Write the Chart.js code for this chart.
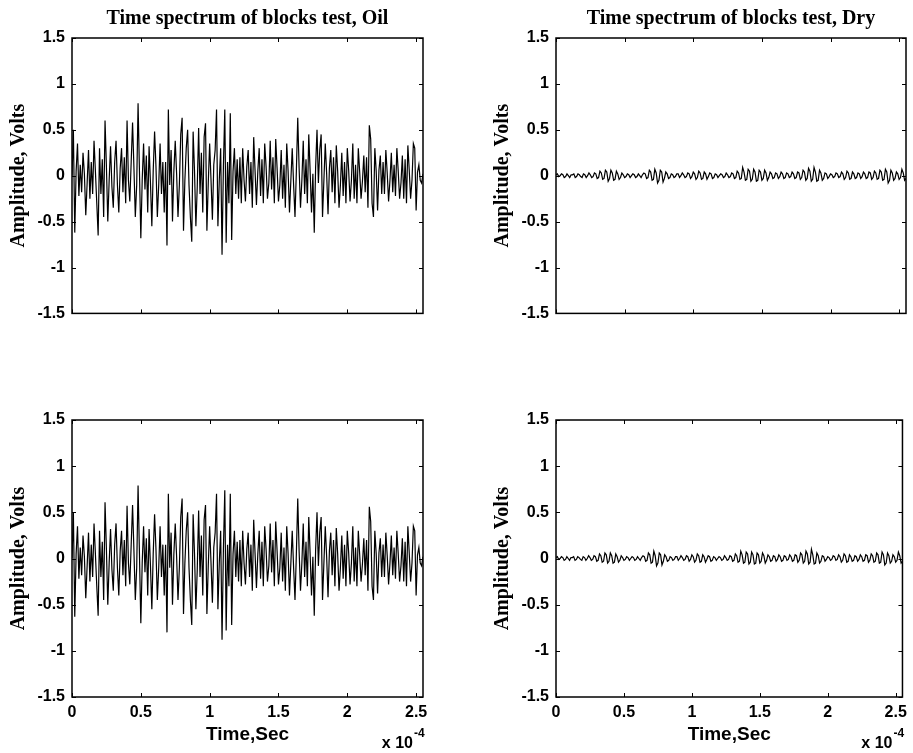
<!DOCTYPE html>
<html>
<head>
<meta charset="utf-8">
<script src="https://cdn.jsdelivr.net/npm/chart.js@4.4.1/dist/chart.umd.min.js"></script>
<style>
  body { margin: 0; background: #fff; }
  #wrap { position: relative; width: 913px; height: 753px; overflow: hidden; }
  canvas { position: absolute; }
</style>
</head>
<body>
<div id="wrap">
  <canvas id="oilTop" width="440" height="330" style="left:0;top:0"></canvas>
  <canvas id="dryTop" width="429" height="330" style="left:484px;top:0"></canvas>
  <canvas id="oilBottom" width="440" height="353" style="left:0;top:400px"></canvas>
  <canvas id="dryBottom" width="429" height="353" style="left:484px;top:400px"></canvas>
</div>
<script>
// amplitude in volts, one sample every 0.01 x 1e-4 s (256 samples)
const oilTopValues = [
  0.00, 0.50, -0.62, 0.05, 0.35, -0.22, 0.12, -0.18,
  0.25, 0.02, -0.43, -0.08, 0.28, -0.25, 0.15, -0.20,
  0.38, 0.05, -0.30, -0.65, 0.30, -0.20, 0.18, -0.45,
  0.60, 0.10, -0.50, -0.05, 0.32, -0.12, -0.35, 0.15,
  0.38, -0.10, -0.40, 0.08, 0.30, -0.18, 0.20, -0.30,
  0.60, -0.05, -0.28, 0.15, 0.58, 0.08, -0.45, -0.10,
  0.79, 0.05, -0.68, -0.05, 0.35, -0.15, 0.22, -0.40,
  0.32, -0.08, -0.55, 0.05, 0.48, 0.10, -0.45, -0.10,
  0.35, -0.20, 0.15, -0.40, 0.15, -0.76, 0.72, -0.10,
  0.28, -0.50, 0.05, 0.38, 0.02, -0.45, -0.10, 0.45,
  0.63, -0.60, -0.05, 0.30, 0.50, -0.10, -0.45, -0.72,
  0.48, 0.05, -0.55, -0.12, 0.52, -0.20, 0.25, -0.40,
  0.42, 0.57, -0.60, -0.08, 0.35, -0.05, -0.48, 0.12,
  0.28, 0.72, -0.55, -0.05, 0.30, -0.86, 0.10, 0.72,
  -0.73, 0.15, -0.30, 0.68, -0.70, 0.05, 0.30, -0.20,
  0.18, -0.25, 0.20, -0.30, 0.30, -0.05, -0.28, 0.10,
  0.28, -0.20, 0.15, -0.35, 0.42, 0.05, -0.32, 0.05,
  0.30, -0.22, 0.18, -0.30, 0.35, 0.10, -0.25, -0.08,
  0.38, -0.15, 0.20, -0.30, 0.40, 0.08, -0.28, -0.10,
  0.28, -0.25, 0.12, -0.35, 0.35, 0.05, -0.40, -0.05,
  0.30, -0.10, -0.45, 0.05, 0.63, 0.08, -0.35, -0.05,
  0.38, -0.20, 0.18, -0.30, 0.45, 0.05, -0.40, 0.02,
  -0.62, 0.10, 0.50, -0.08, 0.28, 0.45, -0.45, -0.05,
  0.35, 0.02, -0.42, 0.08, 0.28, -0.18, 0.20, -0.30,
  0.33, 0.05, -0.35, -0.10, 0.25, -0.22, 0.15, -0.30,
  0.30, 0.06, -0.28, -0.05, 0.35, -0.25, 0.12, -0.30,
  0.30, 0.04, -0.25, -0.06, 0.22, -0.18, 0.20, -0.35,
  0.55, 0.40, -0.30, -0.45, 0.30, 0.05, -0.38, 0.06,
  0.22, -0.20, 0.15, -0.20, 0.28, 0.03, -0.28, -0.05,
  0.25, -0.18, 0.12, -0.22, 0.30, 0.05, -0.25, -0.08,
  0.22, -0.25, 0.18, -0.30, 0.33, 0.06, -0.25, -0.05,
  0.35, 0.30, -0.38, 0.04, 0.12, -0.05, -0.08, 0.02
];
const oilBottomValues = [
  0.00, 0.50, -0.63, 0.05, 0.35, -0.22, 0.12, -0.18,
  0.25, 0.02, -0.43, -0.08, 0.28, -0.25, 0.15, -0.20,
  0.38, 0.05, -0.30, -0.62, 0.30, -0.20, 0.18, -0.45,
  0.61, 0.10, -0.50, -0.05, 0.32, -0.12, -0.35, 0.15,
  0.38, -0.10, -0.40, 0.08, 0.30, -0.18, 0.20, -0.30,
  0.57, -0.05, -0.28, 0.15, 0.58, 0.08, -0.45, -0.10,
  0.79, 0.05, -0.70, -0.05, 0.35, -0.15, 0.22, -0.40,
  0.32, -0.08, -0.55, 0.05, 0.48, 0.10, -0.45, -0.10,
  0.35, -0.20, 0.15, -0.40, 0.15, -0.80, 0.70, -0.10,
  0.28, -0.50, 0.05, 0.38, 0.02, -0.45, -0.10, 0.45,
  0.65, -0.60, -0.05, 0.30, 0.50, -0.10, -0.45, -0.72,
  0.48, 0.05, -0.55, -0.12, 0.52, -0.20, 0.25, -0.40,
  0.42, 0.58, -0.60, -0.08, 0.35, -0.05, -0.48, 0.12,
  0.28, 0.70, -0.55, -0.05, 0.30, -0.88, 0.10, 0.74,
  -0.78, 0.15, -0.30, 0.70, -0.72, 0.05, 0.30, -0.20,
  0.18, -0.25, 0.20, -0.30, 0.30, -0.05, -0.28, 0.10,
  0.28, -0.20, 0.15, -0.35, 0.42, 0.05, -0.32, 0.05,
  0.30, -0.22, 0.18, -0.30, 0.35, 0.10, -0.25, -0.08,
  0.38, -0.15, 0.20, -0.30, 0.40, 0.08, -0.28, -0.10,
  0.28, -0.25, 0.12, -0.35, 0.35, 0.05, -0.40, -0.05,
  0.30, -0.10, -0.45, 0.05, 0.65, 0.08, -0.35, -0.05,
  0.38, -0.20, 0.18, -0.30, 0.45, 0.05, -0.40, 0.02,
  -0.62, 0.10, 0.50, -0.08, 0.28, 0.45, -0.45, -0.05,
  0.35, 0.02, -0.42, 0.08, 0.28, -0.18, 0.20, -0.30,
  0.33, 0.05, -0.35, -0.10, 0.25, -0.22, 0.15, -0.30,
  0.30, 0.06, -0.28, -0.05, 0.35, -0.25, 0.12, -0.30,
  0.30, 0.04, -0.25, -0.06, 0.22, -0.18, 0.20, -0.35,
  0.56, 0.40, -0.30, -0.45, 0.30, 0.05, -0.38, 0.06,
  0.22, -0.20, 0.15, -0.20, 0.28, 0.03, -0.28, -0.05,
  0.25, -0.18, 0.12, -0.22, 0.30, 0.05, -0.25, -0.08,
  0.22, -0.25, 0.18, -0.30, 0.35, 0.06, -0.25, -0.05,
  0.35, 0.30, -0.40, 0.04, 0.12, -0.05, -0.08, 0.02
];
const dryTopValues = [
  0.01, 0.02, -0.01, 0.00, 0.02, 0.01, -0.02, -0.01,
  0.02, 0.00, -0.02, 0.01, 0.01, 0.02, -0.02, -0.01,
  0.02, 0.01, -0.01, -0.02, 0.02, 0.01, -0.02, 0.00,
  0.03, 0.01, -0.02, -0.01, 0.03, 0.02, -0.03, -0.02,
  0.05, 0.03, -0.04, -0.03, 0.06, 0.04, -0.06, -0.03,
  0.06, 0.03, -0.05, -0.04, 0.05, 0.02, -0.04, -0.02,
  0.03, 0.01, -0.02, -0.01, 0.02, 0.01, -0.02, 0.00,
  0.02, 0.01, -0.02, -0.01, 0.02, 0.00, -0.02, 0.01,
  0.03, 0.02, -0.03, -0.02, 0.06, 0.04, -0.05, -0.04,
  0.07, 0.03, -0.08, -0.05, 0.06, 0.04, -0.07, -0.03,
  0.04, 0.02, -0.03, -0.02, 0.02, 0.01, -0.02, -0.01,
  0.02, 0.02, -0.02, 0.00, 0.03, 0.01, -0.02, -0.01,
  0.03, 0.02, -0.03, -0.01, 0.04, 0.02, -0.04, -0.02,
  0.05, 0.03, -0.04, -0.03, 0.04, 0.02, -0.04, -0.01,
  0.03, 0.02, -0.03, -0.02, 0.02, 0.01, -0.02, 0.00,
  0.02, 0.01, -0.02, -0.01, 0.03, 0.01, -0.02, -0.01,
  0.03, 0.02, -0.03, -0.02, 0.05, 0.03, -0.04, -0.03,
  0.09, 0.04, -0.05, -0.04, 0.07, 0.05, -0.06, -0.04,
  0.07, 0.04, -0.06, -0.05, 0.06, 0.04, -0.05, -0.03,
  0.06, 0.03, -0.05, -0.02, 0.04, 0.02, -0.03, -0.02,
  0.03, 0.02, -0.03, -0.01, 0.04, 0.02, -0.03, -0.02,
  0.03, 0.02, -0.02, -0.01, 0.04, 0.02, -0.03, -0.02,
  0.04, 0.03, -0.04, -0.02, 0.06, 0.04, -0.05, -0.03,
  0.08, 0.05, -0.06, -0.04, 0.09, 0.04, -0.06, -0.05,
  0.06, 0.03, -0.05, -0.03, 0.03, 0.02, -0.03, -0.01,
  0.02, 0.01, -0.02, -0.01, 0.03, 0.02, -0.02, -0.01,
  0.04, 0.02, -0.04, -0.02, 0.05, 0.03, -0.04, -0.03,
  0.04, 0.02, -0.03, -0.02, 0.03, 0.02, -0.03, -0.01,
  0.04, 0.02, -0.03, -0.02, 0.04, 0.03, -0.04, -0.02,
  0.05, 0.03, -0.04, -0.03, 0.06, 0.04, -0.05, -0.04,
  0.07, 0.04, -0.08, -0.05, 0.06, 0.03, -0.05, -0.03,
  0.04, 0.02, -0.04, -0.02, 0.07, 0.03, -0.05, -0.03
];
const dryBottomValues = [
  0.01, 0.02, -0.01, 0.00, 0.02, 0.01, -0.02, -0.01,
  0.02, 0.00, -0.02, 0.01, 0.01, 0.02, -0.02, -0.01,
  0.02, 0.01, -0.01, -0.02, 0.02, 0.01, -0.02, 0.00,
  0.03, 0.01, -0.02, -0.01, 0.03, 0.02, -0.03, -0.02,
  0.05, 0.03, -0.04, -0.03, 0.06, 0.04, -0.05, -0.03,
  0.06, 0.03, -0.05, -0.04, 0.05, 0.02, -0.04, -0.02,
  0.03, 0.01, -0.02, -0.01, 0.02, 0.01, -0.02, 0.00,
  0.02, 0.01, -0.02, -0.01, 0.02, 0.00, -0.02, 0.01,
  0.03, 0.02, -0.03, -0.02, 0.06, 0.04, -0.05, -0.04,
  0.08, 0.03, -0.08, -0.05, 0.06, 0.04, -0.07, -0.03,
  0.04, 0.02, -0.03, -0.02, 0.02, 0.01, -0.02, -0.01,
  0.02, 0.02, -0.02, 0.00, 0.03, 0.01, -0.02, -0.01,
  0.03, 0.02, -0.03, -0.01, 0.04, 0.02, -0.04, -0.02,
  0.05, 0.03, -0.04, -0.03, 0.04, 0.02, -0.04, -0.01,
  0.03, 0.02, -0.03, -0.02, 0.02, 0.01, -0.02, 0.00,
  0.02, 0.01, -0.02, -0.01, 0.03, 0.01, -0.02, -0.01,
  0.03, 0.02, -0.03, -0.02, 0.05, 0.03, -0.04, -0.03,
  0.08, 0.04, -0.05, -0.04, 0.07, 0.05, -0.06, -0.04,
  0.07, 0.04, -0.06, -0.05, 0.06, 0.04, -0.05, -0.03,
  0.06, 0.03, -0.05, -0.02, 0.04, 0.02, -0.03, -0.02,
  0.03, 0.02, -0.03, -0.01, 0.04, 0.02, -0.03, -0.02,
  0.03, 0.02, -0.02, -0.01, 0.04, 0.02, -0.03, -0.02,
  0.04, 0.03, -0.04, -0.02, 0.06, 0.04, -0.05, -0.03,
  0.08, 0.05, -0.06, -0.04, 0.10, 0.04, -0.06, -0.05,
  0.06, 0.03, -0.05, -0.03, 0.03, 0.02, -0.03, -0.01,
  0.02, 0.01, -0.02, -0.01, 0.03, 0.02, -0.02, -0.01,
  0.04, 0.02, -0.04, -0.02, 0.05, 0.03, -0.04, -0.03,
  0.04, 0.02, -0.03, -0.02, 0.03, 0.02, -0.03, -0.01,
  0.04, 0.02, -0.03, -0.02, 0.04, 0.03, -0.04, -0.02,
  0.05, 0.03, -0.04, -0.03, 0.06, 0.04, -0.05, -0.04,
  0.07, 0.04, -0.07, -0.05, 0.06, 0.03, -0.05, -0.03,
  0.04, 0.02, -0.04, -0.02, 0.07, 0.03, -0.05, -0.03
];

const sampleStep = 0.01;          // x 1e-4 s
const xTickValues = [0, 0.5, 1, 1.5, 2, 2.5];
const xTickLabels = ['0', '0.5', '1', '1.5', '2', '2.5'];
const yTickValues = [-1.5, -1, -0.5, 0, 0.5, 1, 1.5];
const yTickLabels = ['-1.5', '-1', '-0.5', '0', '0.5', '1', '1.5'];
const titles = ['Time spectrum of blocks test, Oil', 'Time spectrum of blocks test, Dry'];
const yLabel = 'Amplitude, Volts';
const xLabel = 'Time,Sec';

const serif = "'Liberation Serif', 'Times New Roman', serif";
const sans = "'Liberation Sans', Arial, sans-serif";

// box, inward ticks on all four sides and the x 10^-4 exponent
const matlabAxes = {
  id: 'matlabAxes',
  afterDraw(chart, args, opts) {
    const { ctx, chartArea: a, scales: { x, y } } = chart;
    ctx.save();
    ctx.strokeStyle = '#000';
    ctx.lineWidth = 1;
    ctx.beginPath();
    x.ticks.forEach(t => {
      const px = Math.round(x.getPixelForValue(t.value)) + 0.5;
      ctx.moveTo(px, a.bottom); ctx.lineTo(px, a.bottom - 4);
      ctx.moveTo(px, a.top); ctx.lineTo(px, a.top + 4);
    });
    y.ticks.forEach(t => {
      const py = Math.round(y.getPixelForValue(t.value)) + 0.5;
      ctx.moveTo(a.left, py); ctx.lineTo(a.left + 4, py);
      ctx.moveTo(a.right, py); ctx.lineTo(a.right - 4, py);
    });
    ctx.stroke();
    ctx.lineWidth = 1.5;
    ctx.strokeRect(a.left, a.top, a.right - a.left, a.bottom - a.top);
    if (opts.exponent) {
      ctx.fillStyle = '#000';
      ctx.textBaseline = 'alphabetic';
      ctx.textAlign = 'right';
      ctx.font = 'bold 16px ' + sans;
      ctx.fillText('x 10', a.right - 10, a.bottom + 51);
      ctx.textAlign = 'left';
      ctx.font = 'bold 12px ' + sans;
      ctx.fillText('-4', a.right - 9, a.bottom + 40);
    }
    ctx.restore();
  }
};

function makeChart(id, values, opts) {
  const points = values.map((v, i) => ({ x: i * sampleStep, y: v }));
  return new Chart(document.getElementById(id), {
    type: 'line',
    data: {
      datasets: [{
        data: points,
        borderColor: '#000',
        borderWidth: 1.2,
        pointRadius: 0,
        tension: 0
      }]
    },
    plugins: [matlabAxes],
    options: {
      responsive: false,
      animation: false,
      layout: { padding: { left: 0, right: opts.right, top: opts.title ? 0 : 20, bottom: 0 } },
      plugins: {
        legend: { display: false },
        tooltip: { enabled: false },
        title: {
          display: !!opts.title,
          text: opts.title,
          fullSize: false,
          color: '#000',
          font: { family: serif, size: 20, weight: 'bold' },
          padding: { top: 7, bottom: 7 }
        },
        matlabAxes: { exponent: opts.bottom }
      },
      scales: {
        x: {
          type: 'linear',
          min: 0,
          max: 2.55,
          grid: { display: false, drawTicks: false },
          border: { display: false },
          afterBuildTicks: s => { s.ticks = xTickValues.map(v => ({ value: v })); },
          afterFit: s => { s.height = opts.bottom ? 56 : 16; },
          ticks: {
            display: opts.bottom,
            color: '#000',
            padding: 6,
            font: { family: sans, size: 16, weight: 'bold' },
            callback: (v, i) => xTickLabels[i]
          },
          title: {
            display: opts.bottom,
            text: xLabel,
            color: '#000',
            font: { family: sans, size: 19, weight: 'bold' },
            padding: { top: 0, bottom: 7 }
          }
        },
        y: {
          min: -1.5,
          max: 1.5,
          grid: { display: false, drawTicks: false },
          border: { display: false },
          afterBuildTicks: s => { s.ticks = yTickValues.map(v => ({ value: v })); },
          afterFit: s => { s.width = 72; },
          ticks: {
            color: '#000',
            padding: 7,
            font: { family: sans, size: 16, weight: 'bold' },
            callback: (v, i) => yTickLabels[i]
          },
          title: {
            display: true,
            text: yLabel,
            color: '#000',
            font: { family: serif, size: 20, weight: 'bold' },
            padding: { top: 7, bottom: 0 }
          }
        }
      }
    }
  });
}

makeChart('oilTop', oilTopValues, { title: titles[0], bottom: false, right: 17 });
makeChart('dryTop', dryTopValues, { title: titles[1], bottom: false, right: 7 });
makeChart('oilBottom', oilBottomValues, { title: '', bottom: true, right: 17 });
makeChart('dryBottom', dryBottomValues, { title: '', bottom: true, right: 7 });
</script>
</body>
</html>
